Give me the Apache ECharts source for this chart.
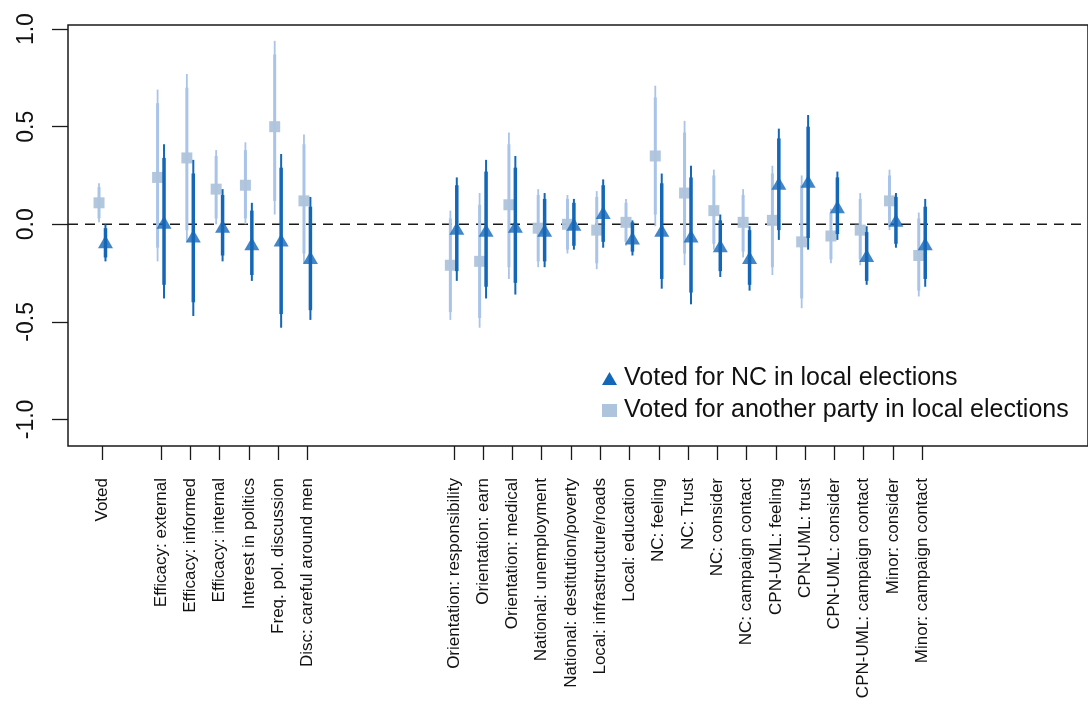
<!DOCTYPE html>
<html>
<head>
<meta charset="utf-8">
<script src="https://cdn.jsdelivr.net/npm/echarts@6/dist/echarts.min.js"></script>
<style>
  html, body { margin: 0; padding: 0; background: #fff; }
  #chart { width: 1088px; height: 704px; }
</style>
</head>
<body>
<div id="chart"></div>
<script>
// Outcome labels and their slot positions along the x axis (gaps separate the groups)
const categories = [
  "Voted",
  "Efficacy: external", "Efficacy: informed", "Efficacy: internal",
  "Interest in politics", "Freq. pol. discussion", "Disc: careful around men",
  "Orientation: responsibility", "Orientation: earn", "Orientation: medical",
  "National: unemployment", "National: destitution/poverty",
  "Local: infrastructure/roads", "Local: education",
  "NC: feeling", "NC: Trust", "NC: consider", "NC: campaign contact",
  "CPN-UML: feeling", "CPN-UML: trust", "CPN-UML: consider", "CPN-UML: campaign contact",
  "Minor: consider", "Minor: campaign contact"
];
const positions = [0, 2, 3, 4, 5, 6, 7, 12, 13, 14, 15, 16, 17, 18, 19, 20, 21, 22, 23, 24, 25, 26, 27, 28];

// Voted for NC in local elections: estimate, outer interval, inner interval
const ncEst   = [-0.09, 0.01, -0.06, -0.01, -0.10, -0.08, -0.17, -0.02, -0.03, -0.01, -0.03, 0.00, 0.06, -0.07, -0.03, -0.06, -0.11, -0.17, 0.21, 0.22, 0.09, -0.16, 0.02, -0.10];
const ncLo    = [-0.19, -0.38, -0.47, -0.19, -0.29, -0.53, -0.49, -0.29, -0.38, -0.36, -0.22, -0.13, -0.12, -0.16, -0.33, -0.41, -0.27, -0.34, -0.08, -0.13, -0.08, -0.31, -0.12, -0.32];
const ncHi    = [0.00, 0.41, 0.33, 0.18, 0.11, 0.36, 0.14, 0.24, 0.33, 0.35, 0.16, 0.13, 0.23, 0.02, 0.26, 0.30, 0.05, -0.01, 0.49, 0.56, 0.27, -0.01, 0.16, 0.13];
const ncInLo  = [-0.17, -0.31, -0.40, -0.16, -0.26, -0.46, -0.44, -0.24, -0.32, -0.30, -0.19, -0.11, -0.09, -0.14, -0.28, -0.35, -0.24, -0.31, -0.03, -0.07, -0.05, -0.29, -0.10, -0.28];
const ncInHi  = [-0.02, 0.34, 0.26, 0.15, 0.07, 0.29, 0.09, 0.20, 0.27, 0.29, 0.13, 0.11, 0.20, 0.01, 0.21, 0.24, 0.02, -0.03, 0.44, 0.50, 0.24, -0.04, 0.14, 0.09];

// Voted for another party in local elections
const otEst   = [0.11, 0.24, 0.34, 0.18, 0.20, 0.50, 0.12, -0.21, -0.19, 0.10, -0.02, 0.00, -0.03, 0.01, 0.35, 0.16, 0.07, 0.01, 0.02, -0.09, -0.06, -0.03, 0.12, -0.16];
const otLo    = [0.01, -0.19, -0.09, 0.00, 0.00, 0.05, -0.20, -0.49, -0.53, -0.28, -0.22, -0.15, -0.23, -0.11, -0.01, -0.21, -0.13, -0.17, -0.26, -0.43, -0.20, -0.21, -0.03, -0.37];
const otHi    = [0.21, 0.69, 0.77, 0.38, 0.42, 0.94, 0.46, 0.07, 0.16, 0.47, 0.18, 0.15, 0.17, 0.13, 0.71, 0.53, 0.28, 0.18, 0.30, 0.25, 0.08, 0.16, 0.28, 0.06];
const otInLo  = [0.03, -0.12, -0.03, 0.03, 0.03, 0.12, -0.15, -0.45, -0.48, -0.22, -0.19, -0.13, -0.20, -0.09, 0.05, -0.15, -0.10, -0.14, -0.22, -0.38, -0.18, -0.18, -0.01, -0.34];
const otInHi  = [0.19, 0.62, 0.70, 0.35, 0.38, 0.87, 0.41, 0.03, 0.10, 0.41, 0.15, 0.13, 0.14, 0.11, 0.65, 0.47, 0.25, 0.15, 0.26, 0.20, 0.06, 0.13, 0.25, 0.03];

const yTicks = [-1.0, -0.5, 0.0, 0.5, 1.0];

const NC_NAME = "Voted for NC in local elections";
const OT_NAME = "Voted for another party in local elections";
const DARK = "#1466b6";
const LIGHT_LINE = "#a9c4e8";
const LIGHT_PT = "#aec4dc";
const FONT = "Liberation Sans, Arial, Helvetica, sans-serif";

const X_MIN = -1.18, X_MAX = 33.66;
const SHIFT_OT = -0.12, SHIFT_NC = 0.10;

const labelAt = {};
positions.forEach((p, i) => { labelAt[p] = categories[i]; });

function ciRows(shift, lo, hi, inLo, inHi) {
  return positions.map((p, i) => [p + shift, lo[i], hi[i], inLo[i], inHi[i]]);
}
function ptRows(shift, est) {
  return positions.map((p, i) => [p + shift, est[i]]);
}
function ciRenderer(color, thin, thick) {
  return function (params, api) {
    const x = api.value(0);
    const a = api.coord([x, api.value(1)]);
    const b = api.coord([x, api.value(2)]);
    const c = api.coord([x, api.value(3)]);
    const d = api.coord([x, api.value(4)]);
    return {
      type: 'group',
      children: [
        { type: 'line', shape: { x1: a[0], y1: a[1], x2: b[0], y2: b[1] },
          style: { stroke: color, lineWidth: thin } },
        { type: 'line', shape: { x1: c[0], y1: c[1], x2: d[0], y2: d[1] },
          style: { stroke: color, lineWidth: thick } }
      ]
    };
  };
}

const chart = echarts.init(document.getElementById('chart'), null, { renderer: 'canvas' });
chart.setOption({
  animation: false,
  backgroundColor: '#fff',
  grid: {
    left: 68, top: 25, right: -14, bottom: 258,
    show: true, borderColor: '#1a1a1a', borderWidth: 1.5, backgroundColor: 'transparent'
  },
  legend: {
    orient: 'vertical',
    left: 597, top: 361,
    itemWidth: 15, itemHeight: 13, itemGap: 7,
    textStyle: { fontFamily: FONT, fontSize: 25, color: '#111', padding: [0, 0, 0, 2] },
    data: [
      { name: NC_NAME, icon: 'triangle', itemStyle: { color: DARK } },
      { name: OT_NAME, icon: 'rect', itemStyle: { color: LIGHT_PT } }
    ]
  },
  xAxis: {
    type: 'value', min: X_MIN, max: X_MAX, position: 'bottom',
    splitLine: { show: false },
    axisLine: { show: false, onZero: false },
    axisTick: { show: true, inside: false, customValues: positions, length: 14, lineStyle: { color: '#1a1a1a', width: 1.3 } },
    axisLabel: {
      customValues: positions, rotate: 90, margin: 32,
      formatter: v => labelAt[Math.round(v)] || '',
      fontFamily: FONT, fontSize: 17, color: '#111'
    }
  },
  yAxis: {
    type: 'value', min: -1.136, max: 1.021, position: 'left',
    splitLine: { show: false },
    axisLine: { show: false, onZero: false },
    axisTick: { show: true, inside: false, customValues: yTicks, length: 16, lineStyle: { color: '#1a1a1a', width: 1.3 } },
    axisLabel: {
      customValues: yTicks, rotate: 90, margin: 30,
      formatter: v => v.toFixed(1),
      fontFamily: FONT, fontSize: 23, color: '#111'
    }
  },
  series: [
    {
      // reference line at zero
      type: 'line', silent: true, symbol: 'none', z: 1,
      data: [[X_MIN, 0], [X_MAX, 0]],
      lineStyle: { color: '#1a1a1a', width: 1.5, type: [10, 7] }
    },
    {
      type: 'custom', name: OT_NAME, z: 2,
      renderItem: ciRenderer(LIGHT_LINE, 1.8, 3),
      encode: { x: 0, y: [1, 2] },
      data: ciRows(SHIFT_OT, otLo, otHi, otInLo, otInHi)
    },
    {
      type: 'scatter', name: OT_NAME, z: 3,
      symbol: 'rect', symbolSize: 11,
      itemStyle: { color: LIGHT_PT, opacity: 0.95 },
      data: ptRows(SHIFT_OT, otEst)
    },
    {
      type: 'custom', name: NC_NAME, z: 4,
      renderItem: ciRenderer(DARK, 2, 3.5),
      encode: { x: 0, y: [1, 2] },
      data: ciRows(SHIFT_NC, ncLo, ncHi, ncInLo, ncInHi)
    },
    {
      type: 'scatter', name: NC_NAME, z: 5,
      symbol: 'triangle', symbolSize: [15, 13],
      itemStyle: { color: DARK },
      data: ptRows(SHIFT_NC, ncEst)
    }
  ]
});
</script>
</body>
</html>
